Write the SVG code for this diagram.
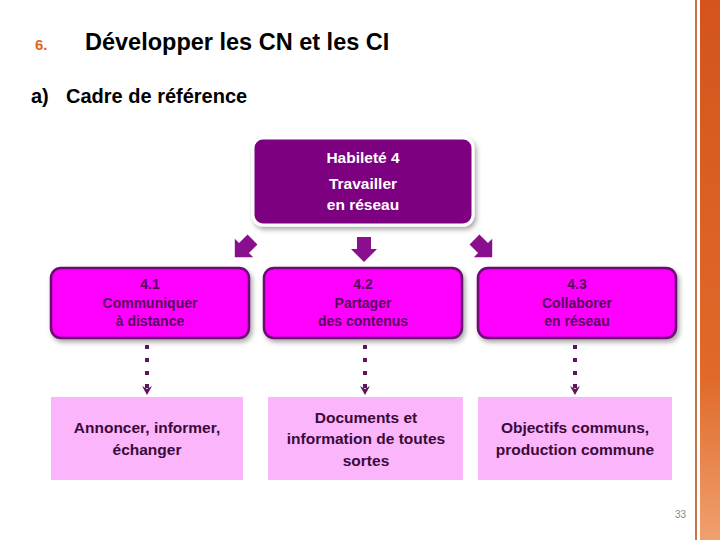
<svg xmlns="http://www.w3.org/2000/svg" width="720" height="540" viewBox="0 0 720 540">
<defs>
<style>
.t{font-family:"Liberation Sans",Arial,sans-serif;font-weight:bold;}
.wt{fill:#ffffff;font-size:15.5px;text-anchor:middle;}
.mt{fill:#550a5a;font-size:14px;text-anchor:middle;}
.bt{fill:#3a0a3a;font-size:15.5px;text-anchor:middle;}
.mid{fill:#ff00ff;stroke:#6a0a70;stroke-width:2.5;}
.bot{fill:#fbb5fb;}
.blk{fill:#8a0f8e;}
.dot{stroke:#5e155e;stroke-width:4;stroke-dasharray:4 9;fill:none;}
.ah{fill:#5e155e;}
</style>
<filter id="sh" x="-10%" y="-10%" width="130%" height="140%">
<feDropShadow dx="2" dy="3" stdDeviation="2.5" flood-color="#000" flood-opacity="0.35"/>
</filter>
<linearGradient id="og" x1="0" y1="0" x2="0" y2="1">
<stop offset="0" stop-color="#d4541c"/>
<stop offset="0.7" stop-color="#e06a2a"/>
<stop offset="1" stop-color="#f0a070"/>
</linearGradient>
<path id="barr" d="M-7,-12 H7 V0 H13 L0,13 L-13,0 H-7 Z"/>
<path id="dh" d="M-5,0 L0,3 L5,0 L0,9 Z"/>
</defs>
<rect width="720" height="540" fill="#ffffff"/>
<rect x="695" y="0" width="2" height="540" fill="#c8744a"/>
<rect x="700" y="0" width="20" height="540" fill="url(#og)"/>

<text class="t" x="35" y="50" style="fill:#e0661e;font-size:15px;">6.</text>
<text class="t" x="85" y="50" style="fill:#000;font-size:23.5px;">Développer les CN et les CI</text>
<text class="t" x="31" y="103" style="fill:#000;font-size:20px;">a)</text>
<text class="t" x="66" y="103" style="fill:#000;font-size:20px;">Cadre de référence</text>

<g id="connectors">
<use href="#barr" class="blk" transform="translate(364,249)"/>
<use href="#barr" class="blk" transform="translate(244,248) rotate(45)"/>
<use href="#barr" class="blk" transform="translate(483,248) rotate(-45)"/>
<line class="dot" x1="147" y1="345" x2="147" y2="388"/>
<use href="#dh" class="ah" transform="translate(147,386)"/>
<line class="dot" x1="365" y1="345" x2="365" y2="388"/>
<use href="#dh" class="ah" transform="translate(365,386)"/>
<line class="dot" x1="575" y1="345" x2="575" y2="388"/>
<use href="#dh" class="ah" transform="translate(575,386)"/>
</g>

<g id="n0">
<rect x="253" y="138" width="220" height="87" rx="10" fill="#7c0080" stroke="#ffffff" stroke-width="3" filter="url(#sh)"/>
<text class="t wt" x="363" y="163">Habileté 4</text>
<text class="t wt" x="363" y="189">Travailler</text>
<text class="t wt" x="363" y="210">en réseau</text>
</g>

<g id="n1">
<rect class="mid" x="51" y="268" width="198" height="70" rx="10" filter="url(#sh)"/>
<text class="t mt" x="150" y="289">4.1</text>
<text class="t mt" x="150" y="308">Communiquer</text>
<text class="t mt" x="150" y="326">à distance</text>
</g>
<g id="n2">
<rect class="mid" x="264" y="268" width="198" height="70" rx="10" filter="url(#sh)"/>
<text class="t mt" x="363" y="289">4.2</text>
<text class="t mt" x="363" y="308">Partager</text>
<text class="t mt" x="363" y="326">des contenus</text>
</g>
<g id="n3">
<rect class="mid" x="478" y="268" width="198" height="70" rx="10" filter="url(#sh)"/>
<text class="t mt" x="577" y="289">4.3</text>
<text class="t mt" x="577" y="308">Collaborer</text>
<text class="t mt" x="577" y="326">en réseau</text>
</g>

<g id="n4">
<rect class="bot" x="51" y="397" width="192" height="83"/>
<text class="t bt" x="147" y="433">Annoncer, informer,</text>
<text class="t bt" x="147" y="455">échanger</text>
</g>
<g id="n5">
<rect class="bot" x="268" y="397" width="195" height="83"/>
<text class="t bt" x="366" y="423">Documents et</text>
<text class="t bt" x="366" y="444">information de toutes</text>
<text class="t bt" x="366" y="466">sortes</text>
</g>
<g id="n6">
<rect class="bot" x="478" y="397" width="194" height="83"/>
<text class="t bt" x="575" y="433">Objectifs communs,</text>
<text class="t bt" x="575" y="455">production commune</text>
</g>

<text x="675" y="518" style="font-family:'Liberation Sans',Arial,sans-serif;font-size:10px;fill:#8a8a8a;">33</text>
</svg>
